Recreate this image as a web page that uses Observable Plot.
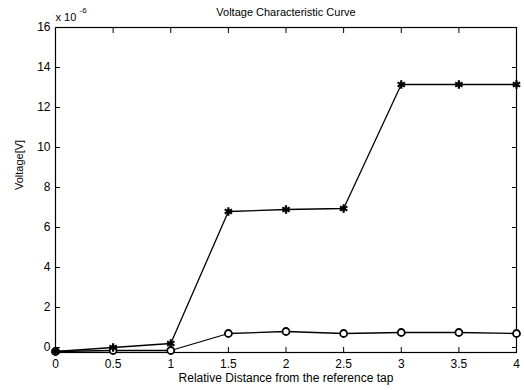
<!DOCTYPE html>
<html>
<head>
<meta charset="utf-8">
<script src="https://cdn.jsdelivr.net/npm/d3@7"></script>
<script src="https://cdn.jsdelivr.net/npm/@observablehq/plot@0.6"></script>
<style>
html,body{margin:0;padding:0;background:#fff;}
#chart{width:524px;height:390px;overflow:hidden;}
</style>
</head>
<body>
<div id="chart"></div>
<script>
const distance = [0, 0.5, 1, 1.5, 2, 2.5, 3, 3.5, 4];
const starSeries = [-0.2, 0.0, 0.2, 6.8, 6.9, 6.95, 13.15, 13.15, 13.15];
const circleSeries = [-0.2, -0.15, -0.15, 0.7, 0.8, 0.7, 0.75, 0.75, 0.7];
const xTicks = [0, 0.5, 1, 1.5, 2, 2.5, 3, 3.5, 4];
const yTicks = [0, 2, 4, 6, 8, 10, 12, 14, 16];
const titleText = "Voltage Characteristic Curve";
const xLabel = "Relative Distance from the reference tap";
const yLabel = "Voltage[V]";
const scaleNote = "x 10";
const scaleExp = "-6";

const stars = distance.map((x, i) => ({x, y: starSeries[i]}));
const circles = distance.map((x, i) => ({x, y: circleSeries[i]}));

const font = "Liberation Sans, Arial, sans-serif";

const plot = Plot.plot({
  width: 524,
  height: 390,
  marginLeft: 55,
  marginRight: 8,
  marginTop: 27,
  marginBottom: 38,
  style: {fontFamily: font, fontSize: "11px", color: "#000", background: "#fff"},
  x: {domain: [0, 4]},
  y: {domain: [-0.25, 16]},
  marks: [
    Plot.frame({stroke: "#000", strokeWidth: 1.2}),
    Plot.axisX({ticks: xTicks, tickSize: -5, tickPadding: 12, tickFormat: d => String(d), label: null, fontSize: 12}),
    Plot.axisX({anchor: "top", ticks: xTicks, tickSize: -5, tickFormat: () => "", label: null}),
    Plot.axisY({ticks: yTicks, tickSize: -5, tickPadding: 10, label: null, fontSize: 12}),
    Plot.axisY({anchor: "right", ticks: yTicks, tickSize: -5, tickFormat: () => "", label: null}),
    Plot.line(circles, {x: "x", y: "y", stroke: "#000", strokeWidth: 1.3}),
    Plot.line(stars, {x: "x", y: "y", stroke: "#000", strokeWidth: 1.3}),
    Plot.dot(circles, {x: "x", y: "y", r: 3.5, stroke: "#000", strokeWidth: 1.8, fill: "#fff"}),
    Plot.dot(stars, {x: "x", y: "y", symbol: "asterisk", r: 4, stroke: "#000", strokeWidth: 2.2}),
    Plot.dot(stars, {x: "x", y: "y", r: 2, fill: "#000"}),
    Plot.text([titleText], {frameAnchor: "top", dy: -19, fontSize: 11, fill: "#000"}),
    Plot.text([xLabel], {frameAnchor: "bottom", dy: 29, fontSize: 12, fill: "#000"}),
    Plot.text([yLabel], {frameAnchor: "left", dx: -36, rotate: -90, fontSize: 11, fill: "#000"}),
    Plot.text([scaleNote], {frameAnchor: "top-left", dx: 0, dy: -14, textAnchor: "start", fontSize: 11, fill: "#000"}),
    Plot.text([scaleExp], {frameAnchor: "top-left", dx: 24, dy: -20, textAnchor: "start", fontSize: 8, fill: "#000"})
  ]
});
document.getElementById("chart").appendChild(plot);
</script>
</body>
</html>
